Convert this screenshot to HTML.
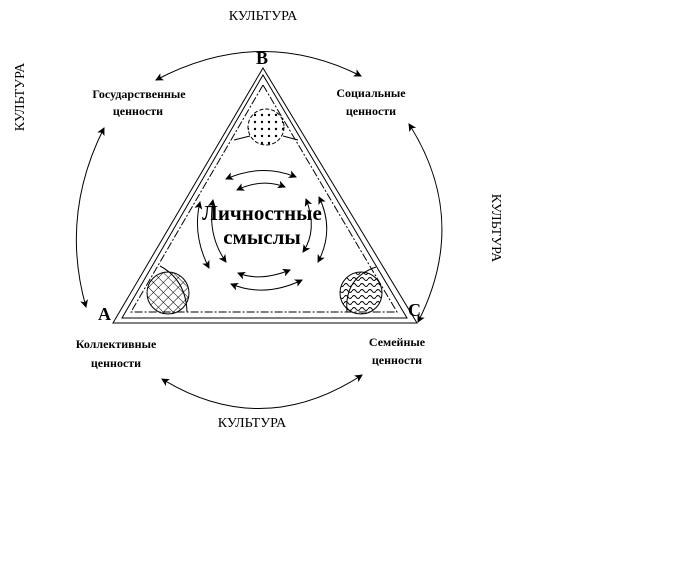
<!DOCTYPE html>
<html><head><meta charset="utf-8"><style>
html,body{margin:0;padding:0;background:#fff;}
svg{display:block;}
text{font-family:"Liberation Serif",serif;fill:#000;}
</style></head><body>
<svg width="694" height="568" viewBox="0 0 694 568" xmlns="http://www.w3.org/2000/svg">
<defs>
<marker id="ar" markerWidth="8" markerHeight="8" refX="7" refY="4" orient="auto-start-reverse" markerUnits="userSpaceOnUse">
<path d="M0,0 L8,4 L0,8 L2,4 Z" fill="#000"/></marker>
<pattern id="dots" width="7" height="7" patternUnits="userSpaceOnUse"><circle cx="3" cy="3" r="1.2" fill="#000"/></pattern>
<pattern id="grid" width="7" height="7" patternUnits="userSpaceOnUse" patternTransform="rotate(45)"><path d="M0,0H7M0,0V7" stroke="#000" stroke-width="1"/></pattern>
<pattern id="wave" width="8" height="6" patternUnits="userSpaceOnUse"><path d="M0,3 Q2,0 4,3 T8,3" fill="none" stroke="#000" stroke-width="1"/></pattern>
</defs>
<text x="263" y="20" font-size="14" text-anchor="middle">КУЛЬТУРА</text>
<text x="252" y="427" font-size="14" text-anchor="middle">КУЛЬТУРА</text>
<text transform="translate(24,97) rotate(-90)" font-size="14" text-anchor="middle">КУЛЬТУРА</text>
<text transform="translate(492,228) rotate(90)" font-size="14" text-anchor="middle">КУЛЬТУРА</text>
<g font-size="12" font-weight="bold" text-anchor="middle">
<text x="139" y="98">Государственные</text><text x="138" y="115">ценности</text>
<text x="371" y="97">Социальные</text><text x="371" y="115">ценности</text>
<text x="116" y="348">Коллективные</text><text x="116" y="367">ценности</text>
<text x="397" y="346">Семейные</text><text x="397" y="364">ценности</text>
</g>
<g font-size="18" font-weight="bold">
<text x="256" y="64">B</text><text x="98" y="320">A</text><text x="408" y="316">C</text>
</g>
<g fill="none" stroke="#000" stroke-width="1">
<path d="M156,80 Q260,25 361,76" marker-start="url(#ar)" marker-end="url(#ar)"/>
<path d="M104,128 Q60,215 86,307" marker-start="url(#ar)" marker-end="url(#ar)"/>
<path d="M409,124 Q470,220 418,322" marker-start="url(#ar)" marker-end="url(#ar)"/>
<path d="M162,379 Q262,440 362,375" marker-start="url(#ar)" marker-end="url(#ar)"/>
<path d="M263,68 L417,323 L113,323 Z"/>
<path d="M263,75 L407,318 L122,318 Z"/>
<path d="M263,85 L397,312 L131,312 Z" stroke-dasharray="8,2,2,2"/>
<path d="M234,140 L250,136 M298,140 L283,136"/>
<path d="M160,266 Q186,280 187,312"/>
<path d="M376,267 Q344,278 347,312"/>
<path d="M226,179 Q262,163 296,177" marker-start="url(#ar)" marker-end="url(#ar)"/>
<path d="M237,190 Q262,178 285,187" marker-start="url(#ar)" marker-end="url(#ar)"/>
<path d="M200,202 Q192,235 209,268" marker-start="url(#ar)" marker-end="url(#ar)"/>
<path d="M213,200 Q207,235 226,262" marker-start="url(#ar)" marker-end="url(#ar)"/>
<path d="M319,197 Q335,230 318,262" marker-start="url(#ar)" marker-end="url(#ar)"/>
<path d="M306,199 Q318,230 303,252" marker-start="url(#ar)" marker-end="url(#ar)"/>
<path d="M238,273 Q260,282 290,270" marker-start="url(#ar)" marker-end="url(#ar)"/>
<path d="M231,284 Q265,298 302,280" marker-start="url(#ar)" marker-end="url(#ar)"/>
</g>
<circle cx="266" cy="127" r="18" fill="url(#dots)" stroke="#000" stroke-dasharray="4,2"/>
<circle cx="168" cy="293" r="21" fill="url(#grid)" stroke="#000"/>
<circle cx="361" cy="293" r="21" fill="url(#wave)" stroke="#000"/>
<g font-size="21" font-weight="bold" text-anchor="middle">
<text x="262" y="220">Личностные</text><text x="262" y="244">смыслы</text>
</g>
</svg>
</body></html>
